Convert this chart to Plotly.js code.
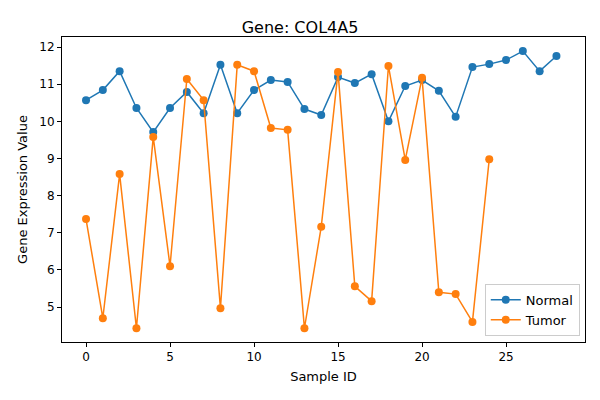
<!DOCTYPE html>
<html>
<head>
<meta charset="utf-8">
<script src="https://cdn.plot.ly/plotly-3.0.1.min.js"></script>
<style>body{margin:0;}#plot{width:600px;height:400px;}</style>
</head>
<body>
<div id="plot"></div>
<script>
const normalValues = [10.57, 10.84, 11.35, 10.36, 9.71, 10.36, 10.79, 10.22, 11.52, 10.22,
  10.84, 11.11, 11.06, 10.33, 10.17, 11.19, 11.03, 11.27, 10.0, 10.95,
  11.11, 10.82, 10.12, 11.46, 11.54, 11.65, 11.89, 11.35, 11.76];
const tumorValues = [7.37, 4.70, 8.58, 4.43, 9.58, 6.10, 11.14, 10.57, 4.97, 11.52,
  11.35, 9.82, 9.77, 4.43, 7.16, 11.33, 5.56, 5.16, 11.49, 8.96,
  11.17, 5.40, 5.35, 4.60, 8.98];
const normalIds = normalValues.map((_, i) => i);
const tumorIds = tumorValues.map((_, i) => i);

const data = [
  { x: normalIds, y: normalValues, mode: 'lines+markers', name: 'Normal',
    line: { color: '#1f77b4', width: 1.5 }, marker: { color: '#1f77b4', size: 8 } },
  { x: tumorIds, y: tumorValues, mode: 'lines+markers', name: 'Tumor',
    line: { color: '#ff7f0e', width: 1.5 }, marker: { color: '#ff7f0e', size: 8 } },
];

const axisStyle = {
  showgrid: false, zeroline: false, showline: true, mirror: true,
  linecolor: '#000', linewidth: 1, ticks: 'outside', ticklen: 4, tickcolor: '#000',
};

Plotly.newPlot('plot', data, {
  width: 600, height: 400,
  font: { family: 'DejaVu Sans', size: 12, color: '#000' },
  title: { text: 'Gene: COL4A5', x: 0.5, y: 0.945, font: { size: 16 } },
  margin: { l: 62, r: 15, t: 37, b: 58 },
  plot_bgcolor: '#fff', paper_bgcolor: '#fff',
  xaxis: Object.assign({}, axisStyle, { range: [-1.43, 29.7], dtick: 5,
    title: { text: 'Sample ID', standoff: 8, font: { size: 13 } } }),
  yaxis: Object.assign({}, axisStyle, { range: [4.06, 12.27], dtick: 1,
    title: { text: 'Gene Expression Value', standoff: 8, font: { size: 13 } } }),
  legend: { x: 0.99, y: 0.02, xanchor: 'right', yanchor: 'bottom',
    bgcolor: 'rgba(255,255,255,0.8)', bordercolor: '#ccc', borderwidth: 1,
    font: { size: 13 } },
  showlegend: true,
}, { displayModeBar: false });
</script>
</body>
</html>
